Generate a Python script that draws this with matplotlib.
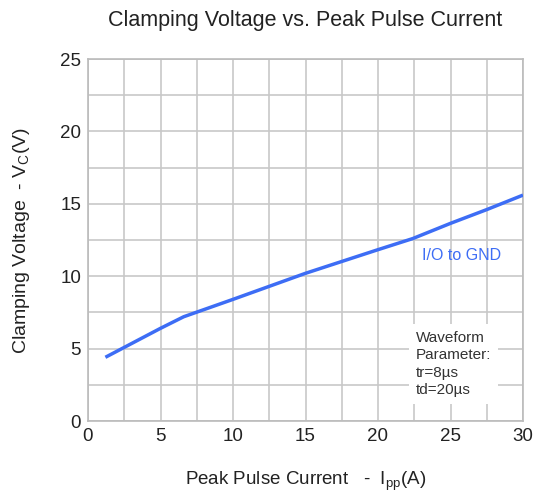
import numpy as np
import matplotlib
matplotlib.use('Agg')
import matplotlib.pyplot as plt

# peak pulse current (A) and clamping voltage (V)
ipp = [1.2, 5.0, 6.6, 10.0, 15.0, 19.9, 22.4, 25.0, 27.5, 30.0]
vc = [4.4, 6.4, 7.2, 8.4, 10.2, 11.8, 12.6, 13.65, 14.6, 15.6]

xticks = [0, 5, 10, 15, 20, 25, 30]
yticks = [0, 5, 10, 15, 20, 25]

plt.rcParams['font.family'] = ['Liberation Sans', 'DejaVu Sans']

fig = plt.figure(figsize=(5.34, 4.93), dpi=100)
ax = fig.add_axes([88/534, 72/493, 435/534, 362/493])

ax.plot(ipp, vc, color='#3d6df5', lw=2.5, solid_capstyle='butt', zorder=3)

ax.set_xlim(0, 30)
ax.set_ylim(0, 25)
ax.set_xticks(xticks)
ax.set_yticks(yticks)
ax.set_xticks(np.arange(0, 30.1, 2.5), minor=True)
ax.set_yticks(np.arange(0, 25.1, 2.5), minor=True)
ax.grid(True, which='both', color='#c8c8c8', lw=1.2)
ax.tick_params(which='both', length=0, labelsize=13.5, colors='#222222', pad=5)
for s in ax.spines.values():
    s.set_color('#bbbbbb')
    s.set_linewidth(1.2)

ax.text(23.0, 11.45, 'I/O to GND', color='#3d6df5', fontsize=11.5, va='center')
ax.text(22.6, 3.94, 'Waveform\nParameter:\ntr=8\u00b5s\ntd=20\u00b5s', fontsize=11,
        color='#333333', va='center', linespacing=1.3,
        bbox=dict(facecolor='white', edgecolor='none', pad=5), zorder=4)

ax.set_title('Clamping Voltage vs. Peak Pulse Current', fontsize=15.5, pad=24, color='#222222')
ax.set_xlabel('Peak Pulse Current   -  I$_{\\mathregular{pp}}$(A)', fontsize=13.5, labelpad=18, color='#222222')
ax.set_ylabel('Clamping Voltage  - V$_{\\mathregular{C}}$(V)', fontsize=14, labelpad=20, color='#222222')

fig.savefig('out.png', dpi=100)
